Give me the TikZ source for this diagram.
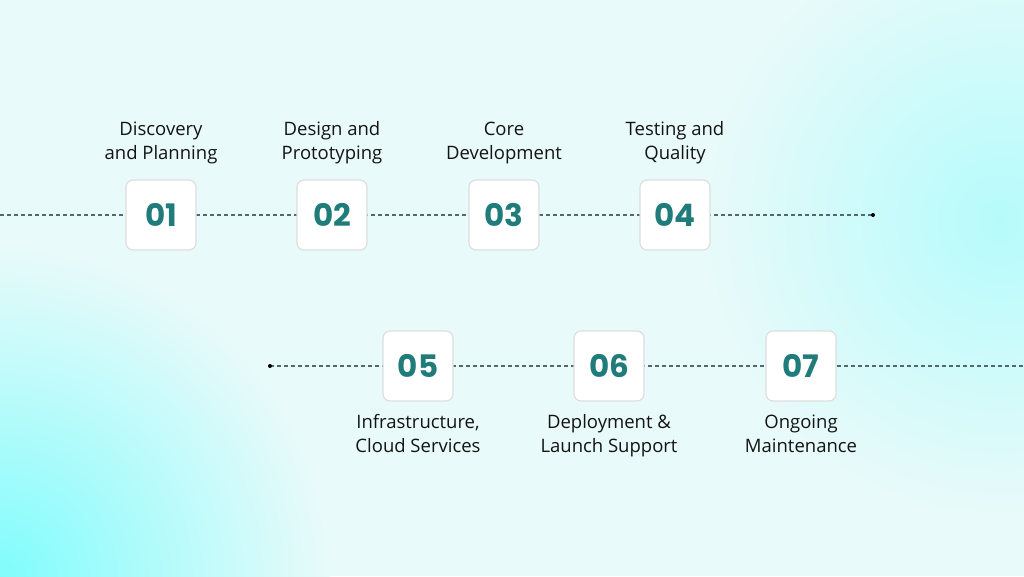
\documentclass[tikz,border=0pt]{standalone}
\usepackage{fontspec}
\setmainfont{Open Sans}
\newfontfamily\numfont{Poppins}
\definecolor{bg}{HTML}{E9FAFA}
\definecolor{teal}{HTML}{1F7C7A}
\definecolor{dline}{HTML}{4E6A6A}
\tikzset{
  numbox/.style={draw=black!13,line width=1.2pt,fill=white,rounded corners=7pt,minimum width=70pt,minimum height=70pt,font=\numfont\bfseries\fontsize{31}{31}\selectfont,text=teal},
  lbl/.style={align=center,font=\fontsize{18.5}{24}\selectfont,text=black!92},
  conn/.style={dashed,dash pattern=on 4pt off 3pt,draw=dline,line width=1.1pt}
}
\begin{document}
\begin{tikzpicture}[x=1pt,y=-1pt]
\useasboundingbox (0,0) rectangle (1024,576);
\fill[bg] (0,0) rectangle (1024,576);
\begin{scope}
\clip (0,0) rectangle (1024,576);
\shade[inner color=cyan!45!bg,outer color=bg] (0,576) circle (330);
\shade[inner color=cyan!22!bg,outer color=bg] (1000,220) circle (300);
\end{scope}
\coordinate (L0) at (0,215);
\coordinate (R0) at (873,215);
\coordinate (L1) at (270,366);
\coordinate (R1) at (1024,366);
\draw[conn] (L0) -- (R0);
\draw[conn] (L1) -- (R1);
\fill[black] (R0) circle (2pt);
\fill[black] (L1) circle (2pt);
\node[numbox] (n1) at (161,215) {01};
\node[numbox] (n2) at (332,215) {02};
\node[numbox] (n3) at (504,215) {03};
\node[numbox] (n4) at (675,215) {04};
\node[numbox] (n5) at (418,366) {05};
\node[numbox] (n6) at (609,366) {06};
\node[numbox] (n7) at (801,366) {07};
\node[lbl,anchor=south] (t1) at (161,167) {Discovery\\and Planning};
\node[lbl,anchor=south] (t2) at (332,167) {Design and\\Prototyping};
\node[lbl,anchor=south] (t3) at (504,167) {Core\\Development};
\node[lbl,anchor=south] (t4) at (675,167) {Testing and\\Quality};
\node[lbl,anchor=north] (t5) at (418,411) {Infrastructure,\\Cloud Services};
\node[lbl,anchor=north] (t6) at (609,411) {Deployment \&\\Launch Support};
\node[lbl,anchor=north] (t7) at (801,411) {Ongoing\\Maintenance};
\end{tikzpicture}
\end{document}
